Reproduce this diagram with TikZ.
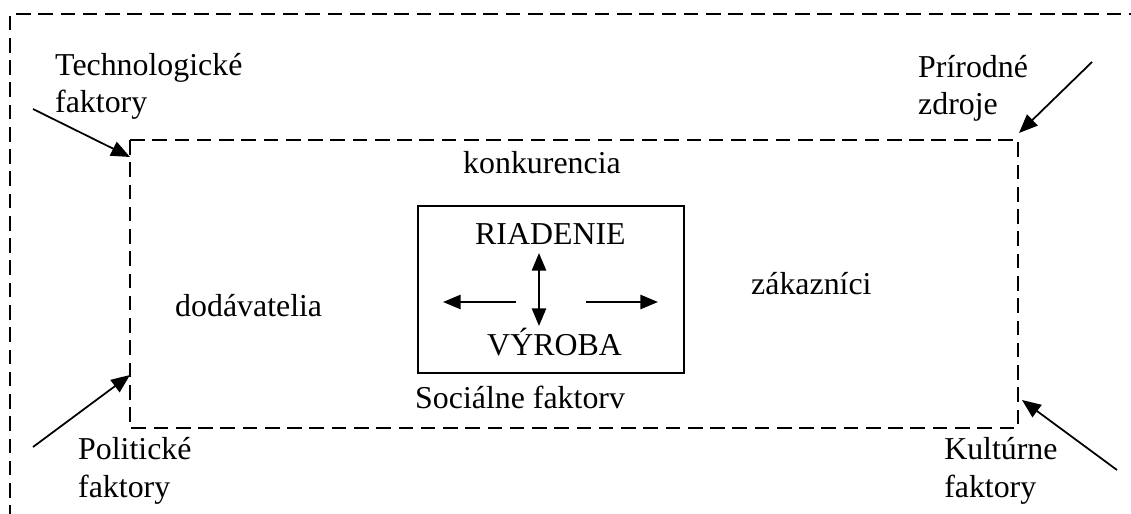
\documentclass[tikz,border=0pt]{standalone}
\usepackage{fontspec}
\setmainfont{Liberation Serif}
\usetikzlibrary{arrows.meta}
\begin{document}
\begin{tikzpicture}[x=0.03cm,y=-0.03cm,
  lbl/.style={font=\fontsize{27.2}{31.6}\selectfont, inner sep=0pt, anchor=base west, align=left},
  dline/.style={line width=1.6pt, dash pattern=on 12.5pt off 6.5pt},
  arr/.style={line width=1.5pt, -{Triangle[length=16pt,width=13pt]}},
  iarr/.style={line width=2pt, -{Triangle[length=15pt,width=12pt]}},
  darr/.style={line width=2pt, {Triangle[length=15pt,width=12pt]}-{Triangle[length=15pt,width=12pt]}}]
\useasboundingbox (0,0) rectangle (1131,514);
% outer frame
\coordinate (oBL) at (10,520);
\coordinate (oTL) at (10,14);
\coordinate (oTR) at (1140,14);
\draw[dline] (oBL) -- (oTL) -- (oTR);
% inner frame
\coordinate (iTL) at (130,140);
\coordinate (iBR) at (1018,428);
\draw[dline] (iTL) rectangle (iBR);
% core box
\coordinate (cTL) at (418,206);
\coordinate (cBR) at (684,373);
\draw[line width=1.4pt] (cTL) rectangle (cBR);
% labels
\node[lbl] (tech) at (55,113) {Technologické\\faktory};
\node[lbl] (prir) at (918,115) {Prírodné\\zdroje};
\node[lbl] (pol) at (78,497) {Politické\\faktory};
\node[lbl] (kult) at (944,497) {Kultúrne\\faktory};
\node[lbl] (konk) at (463,174) {konkurencia};
\node[lbl] (dod) at (175,316) {dodávatelia};
\node[lbl] (zak) at (751,294) {zákazníci};
\node[lbl] (soc) at (415,408) {Sociálne faktorv};
\node[lbl] (riad) at (475,245) {RIADENIE};
\node[lbl] (vyr) at (487,355) {VÝROBA};
% outer arrows
\coordinate (techS) at (33,109);
\coordinate (techE) at (130,157);
\coordinate (prirS) at (1092,62);
\coordinate (prirE) at (1019,133);
\coordinate (polS) at (33,447);
\coordinate (polE) at (130,375);
\coordinate (kultS) at (1117,470);
\coordinate (kultE) at (1022,400);
\draw[arr] (techS) -- (techE);
\draw[arr] (prirS) -- (prirE);
\draw[arr] (polS) -- (polE);
\draw[arr] (kultS) -- (kultE);
% inner arrows
\coordinate (vT) at (539,253);
\coordinate (vB) at (539,326);
\coordinate (lS) at (516,302);
\coordinate (lE) at (443,302);
\coordinate (rS) at (586,302);
\coordinate (rE) at (658,302);
\draw[darr] (vT) -- (vB);
\draw[iarr] (lS) -- (lE);
\draw[iarr] (rS) -- (rE);
\end{tikzpicture}
\end{document}
